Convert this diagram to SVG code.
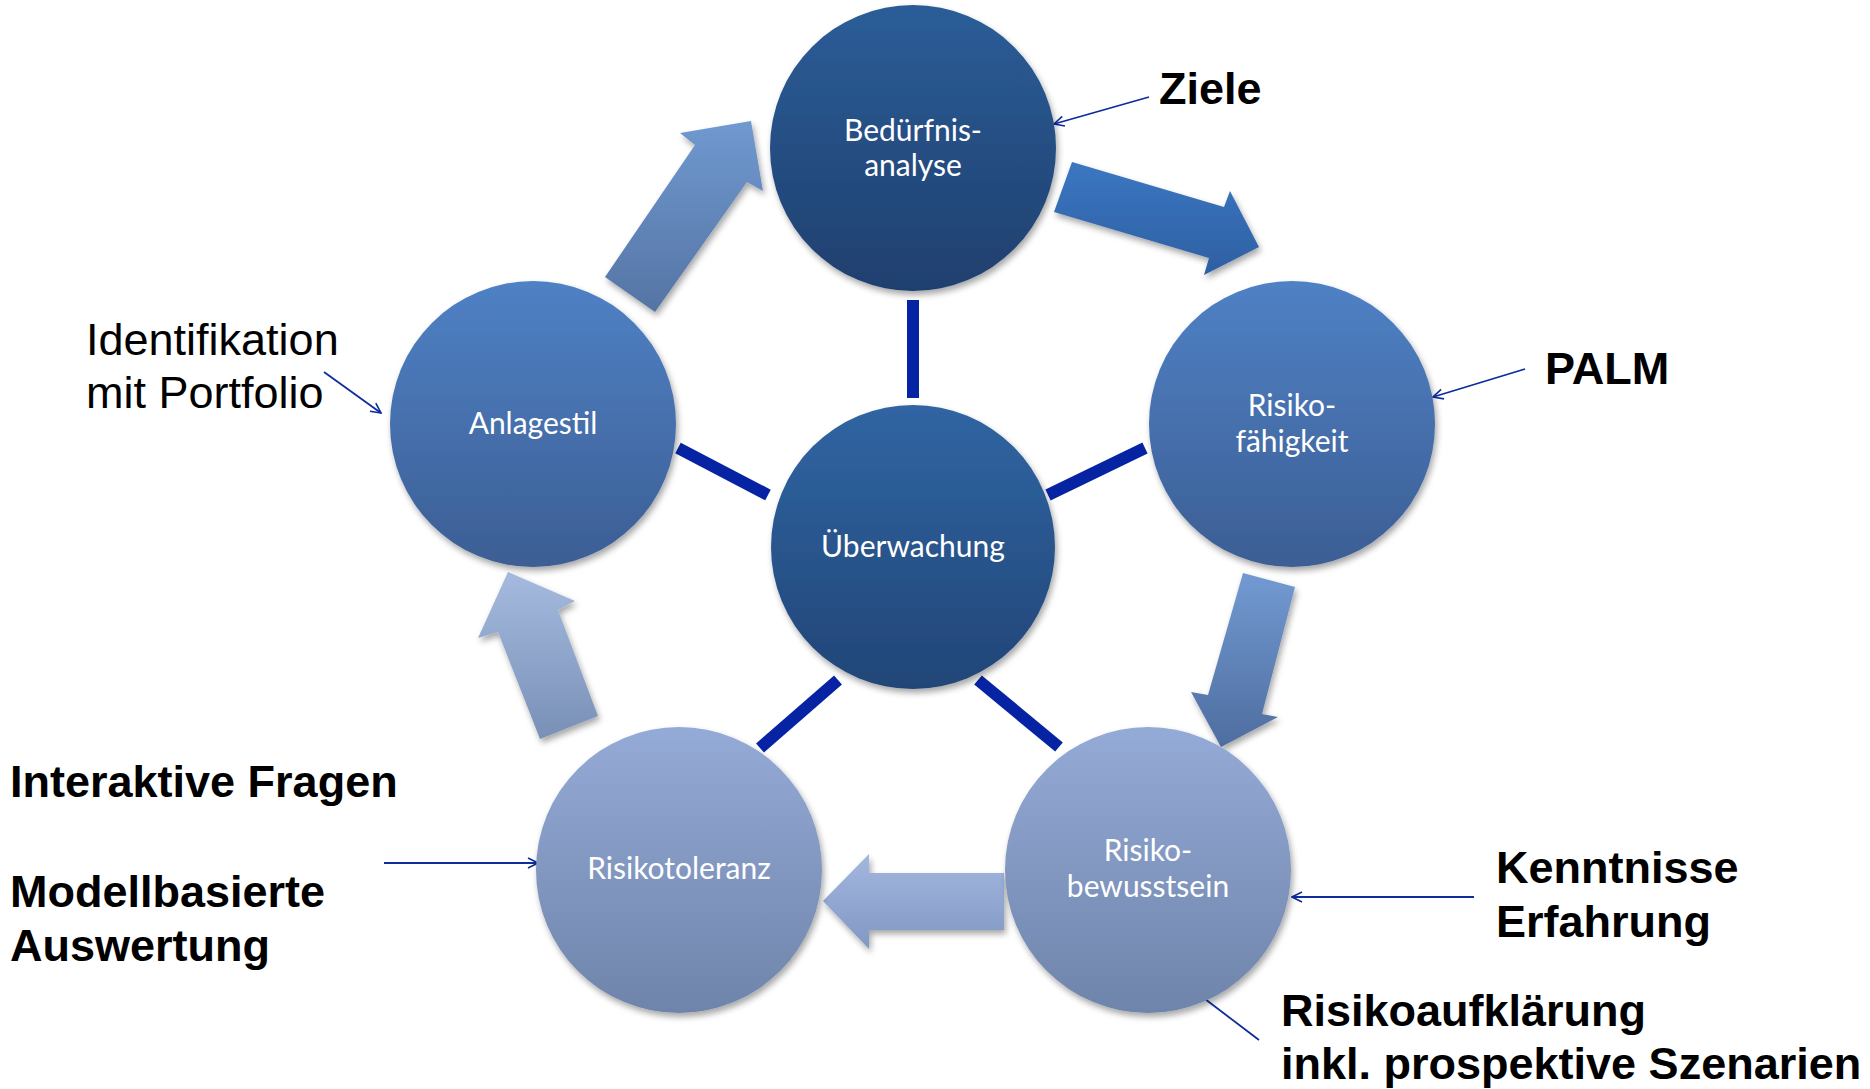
<svg xmlns="http://www.w3.org/2000/svg" width="1870" height="1089" viewBox="0 0 1870 1089">
<style>
.lbl{font-family:Lato,"Open Sans","Noto Sans",sans-serif;font-size:30px;fill:#ffffff;text-anchor:middle}
.note{font-family:"Liberation Sans",Arial,sans-serif;font-size:45px;font-weight:bold;fill:#000000}
.noteR{font-family:"Liberation Sans",Arial,sans-serif;font-size:45px;fill:#000000}
.spoke{stroke:#0623a3;stroke-width:12;stroke-linecap:butt}
.thin{stroke:#0d2c9e;stroke-width:1.8;fill:none}
</style>
<defs>
<filter id="sh" x="-20%" y="-20%" width="140%" height="140%">
<feDropShadow dx="2" dy="4" stdDeviation="3" flood-color="#000" flood-opacity="0.35"/>
</filter>
<linearGradient id="gTop" x1="0" y1="0" x2="0" y2="1"><stop offset="0" stop-color="#2c5d98"/><stop offset="1" stop-color="#1f3f6e"/></linearGradient>
<linearGradient id="gCen" x1="0" y1="0" x2="0" y2="1"><stop offset="0" stop-color="#3065a3"/><stop offset="1" stop-color="#224577"/></linearGradient>
<linearGradient id="gSide" x1="0" y1="0" x2="0" y2="1"><stop offset="0" stop-color="#4f81c5"/><stop offset="1" stop-color="#3c5e94"/></linearGradient>
<linearGradient id="gBot" x1="0" y1="0" x2="0" y2="1"><stop offset="0" stop-color="#95abd7"/><stop offset="1" stop-color="#6e84aa"/></linearGradient>
<linearGradient id="a1" gradientUnits="userSpaceOnUse" x1="0" y1="121" x2="0" y2="312"><stop offset="0" stop-color="#7099d0"/><stop offset="1" stop-color="#5574a4"/></linearGradient>
<linearGradient id="a2" gradientUnits="userSpaceOnUse" x1="0" y1="162" x2="0" y2="275"><stop offset="0" stop-color="#3b77c2"/><stop offset="1" stop-color="#2e5fa2"/></linearGradient>
<linearGradient id="a3" gradientUnits="userSpaceOnUse" x1="0" y1="573" x2="0" y2="747"><stop offset="0" stop-color="#729ad2"/><stop offset="1" stop-color="#4e6d9f"/></linearGradient>
<linearGradient id="a4" gradientUnits="userSpaceOnUse" x1="0" y1="854" x2="0" y2="949"><stop offset="0" stop-color="#a3b7de"/><stop offset="1" stop-color="#8198c4"/></linearGradient>
<linearGradient id="a5" gradientUnits="userSpaceOnUse" x1="0" y1="572" x2="0" y2="739"><stop offset="0" stop-color="#a6badf"/><stop offset="1" stop-color="#7990b6"/></linearGradient>
<marker id="open" viewBox="0 0 12 12" refX="11" refY="6" markerWidth="12" markerHeight="12" markerUnits="userSpaceOnUse" orient="auto">
<path d="M1,1 L11,6 L1,11" fill="none" stroke="#0d2c9e" stroke-width="1.6"/>
</marker>
</defs>
<rect width="1870" height="1089" fill="#ffffff"/>

<g id="connectors">
<g id="cycle-arrows" filter="url(#sh)">
<polygon points="605,277 695,145 680,133 751,121 763,191 747,182 655,312" fill="url(#a1)"/>
<polygon points="1072,162 1224,207 1230,191 1259,247 1204,275 1209,258 1054,212" fill="url(#a2)"/>
<polygon points="1243,573 1295,587 1262,714 1278,717 1221,747 1191,692 1208,695" fill="url(#a3)"/>
<polygon points="1004,873 869,873 869,854 823,901 869,949 869,930 1004,930" fill="url(#a4)"/>
<polygon points="508,572 575,601 558,610 598,716 540,739 498,632 478,638" fill="url(#a5)"/>
</g>
<g id="spokes">
<line class="spoke" x1="913" y1="300" x2="913" y2="398"/>
<line class="spoke" x1="678" y1="448" x2="768" y2="495"/>
<line class="spoke" x1="1048" y1="495" x2="1145" y2="448"/>
<line class="spoke" x1="760" y1="748" x2="838" y2="680"/>
<line class="spoke" x1="978" y1="680" x2="1059" y2="747"/>
</g>
<g id="annotation-arrows">
<line class="thin" x1="1149" y1="97" x2="1054" y2="124" marker-end="url(#open)"/>
<line class="thin" x1="1525" y1="369" x2="1433" y2="397" marker-end="url(#open)"/>
<line class="thin" x1="324" y1="372" x2="381" y2="413" marker-end="url(#open)"/>
<line class="thin" x1="384" y1="863" x2="538" y2="863" marker-end="url(#open)"/>
<line class="thin" x1="1474" y1="897" x2="1292" y2="897" marker-end="url(#open)"/>
<line class="thin" x1="1205" y1="999" x2="1259" y2="1040"/>
</g>
</g>

<g id="node-beduerfnisanalyse">
<circle cx="913" cy="148" r="143" fill="url(#gTop)" filter="url(#sh)"/>
<text class="lbl" x="913" y="141">Bedürfnis-</text>
<text class="lbl" x="913" y="176">analyse</text>
</g>
<g id="node-ueberwachung">
<circle cx="913" cy="547" r="142" fill="url(#gCen)" filter="url(#sh)"/>
<text class="lbl" x="913" y="557">Überwachung</text>
</g>
<g id="node-anlagestil">
<circle cx="533" cy="424" r="143" fill="url(#gSide)" filter="url(#sh)"/>
<text class="lbl" x="533" y="434">Anlagestil</text>
</g>
<g id="node-risikofaehigkeit">
<circle cx="1292" cy="424" r="143" fill="url(#gSide)" filter="url(#sh)"/>
<text class="lbl" x="1292" y="416">Risiko-</text>
<text class="lbl" x="1292" y="452">fähigkeit</text>
</g>
<g id="node-risikotoleranz">
<circle cx="679" cy="870" r="143" fill="url(#gBot)" filter="url(#sh)"/>
<text class="lbl" x="679" y="879">Risikotoleranz</text>
</g>
<g id="node-risikobewusstsein">
<circle cx="1148" cy="870" r="143" fill="url(#gBot)" filter="url(#sh)"/>
<text class="lbl" x="1148" y="861">Risiko-</text>
<text class="lbl" x="1148" y="897">bewusstsein</text>
</g>

<g id="notes">
<text class="note" x="1159" y="104">Ziele</text>
<text class="note" x="1545" y="384">PALM</text>
<text class="noteR" x="86" y="355">Identifikation</text>
<text class="noteR" x="86" y="408">mit Portfolio</text>
<text class="note" x="10" y="797">Interaktive Fragen</text>
<text class="note" x="10" y="907">Modellbasierte</text>
<text class="note" x="10" y="961">Auswertung</text>
<text class="note" x="1496" y="883">Kenntnisse</text>
<text class="note" x="1496" y="937">Erfahrung</text>
<text class="note" x="1281" y="1026">Risikoaufklärung</text>
<text class="note" x="1281" y="1079">inkl. prospektive Szenarien</text>
</g>
</svg>
